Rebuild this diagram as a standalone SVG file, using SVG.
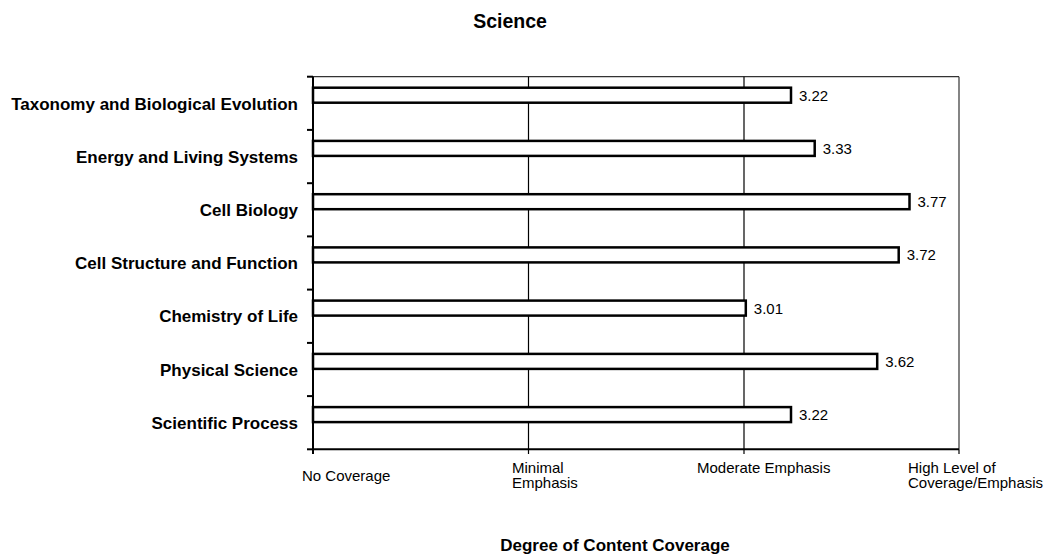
<svg xmlns="http://www.w3.org/2000/svg" width="1055" height="556" viewBox="0 0 1055 556">
<style>
.bold{font-family:"Liberation Sans",Arial,sans-serif;font-weight:bold;font-size:17px;fill:#000}
.cat{text-anchor:end}
.reg{font-family:"Liberation Sans",Arial,sans-serif;font-size:15px;fill:#000}
.bar{fill:#fff;stroke:#000;stroke-width:2.5}
.grid{stroke:#000;stroke-width:1.2}
.frame{stroke:#333;stroke-width:1.2;fill:none}
.axis{stroke:#000;stroke-width:2}
</style>
<rect width="1055" height="556" fill="#fff"/>
<text class="bold" x="510" y="28" text-anchor="middle" style="font-size:19.5px">Science</text>
<g id="plot">
<line class="frame" x1="313" y1="76.7" x2="959" y2="76.7"/>
<line class="frame" x1="959" y1="76.7" x2="959" y2="449.3"/>
<line class="grid" x1="528.5" y1="76.7" x2="528.5" y2="454"/>
<line class="grid" x1="744" y1="76.7" x2="744" y2="454"/>
<line class="grid" x1="959" y1="449.3" x2="959" y2="454"/>
<line class="axis" x1="313" y1="76.7" x2="313" y2="454"/>
<line class="axis" x1="313" y1="449.3" x2="959" y2="449.3"/>
<g class="axis">
<line x1="307" y1="76.7" x2="313" y2="76.7"/>
<line x1="307" y1="129.9" x2="313" y2="129.9"/>
<line x1="307" y1="183.2" x2="313" y2="183.2"/>
<line x1="307" y1="236.4" x2="313" y2="236.4"/>
<line x1="307" y1="289.6" x2="313" y2="289.6"/>
<line x1="307" y1="342.9" x2="313" y2="342.9"/>
<line x1="307" y1="396.1" x2="313" y2="396.1"/>
<line x1="307" y1="449.3" x2="313" y2="449.3"/>
</g>
</g>
<g id="bar-taxonomy">
<text class="bold cat" x="298" y="109.5">Taxonomy and Biological Evolution</text>
<rect class="bar" x="313" y="87.7" width="478" height="15"/>
<text class="reg" x="799" y="100.7">3.22</text>
</g>
<g id="bar-energy">
<text class="bold cat" x="298" y="162.7">Energy and Living Systems</text>
<rect class="bar" x="313" y="140.9" width="501.7" height="15"/>
<text class="reg" x="822.7" y="153.9">3.33</text>
</g>
<g id="bar-cellbio">
<text class="bold cat" x="298" y="216">Cell Biology</text>
<rect class="bar" x="313" y="194.2" width="596.5" height="15"/>
<text class="reg" x="917.5" y="207.2">3.77</text>
</g>
<g id="bar-cellstruct">
<text class="bold cat" x="298" y="269.2">Cell Structure and Function</text>
<rect class="bar" x="313" y="247.4" width="585.7" height="15"/>
<text class="reg" x="906.7" y="260.4">3.72</text>
</g>
<g id="bar-chem">
<text class="bold cat" x="298" y="322.4">Chemistry of Life</text>
<rect class="bar" x="313" y="300.6" width="432.8" height="15"/>
<text class="reg" x="753.8" y="313.6">3.01</text>
</g>
<g id="bar-phys">
<text class="bold cat" x="298" y="375.7">Physical Science</text>
<rect class="bar" x="313" y="353.9" width="564.2" height="15"/>
<text class="reg" x="885.2" y="366.9">3.62</text>
</g>
<g id="bar-sci">
<text class="bold cat" x="298" y="428.9">Scientific Process</text>
<rect class="bar" x="313" y="407.1" width="478" height="15"/>
<text class="reg" x="799" y="420.1">3.22</text>
</g>
<g id="x-labels" class="reg">
<text x="302" y="481">No Coverage</text>
<text x="512" y="473">Minimal</text>
<text x="512" y="488">Emphasis</text>
<text x="697" y="473">Moderate Emphasis</text>
<text x="908" y="473">High Level of</text>
<text x="908" y="488">Coverage/Emphasis</text>
</g>
<text class="bold" x="615" y="551" text-anchor="middle" style="font-size:17px">Degree of Content Coverage</text>
</svg>
